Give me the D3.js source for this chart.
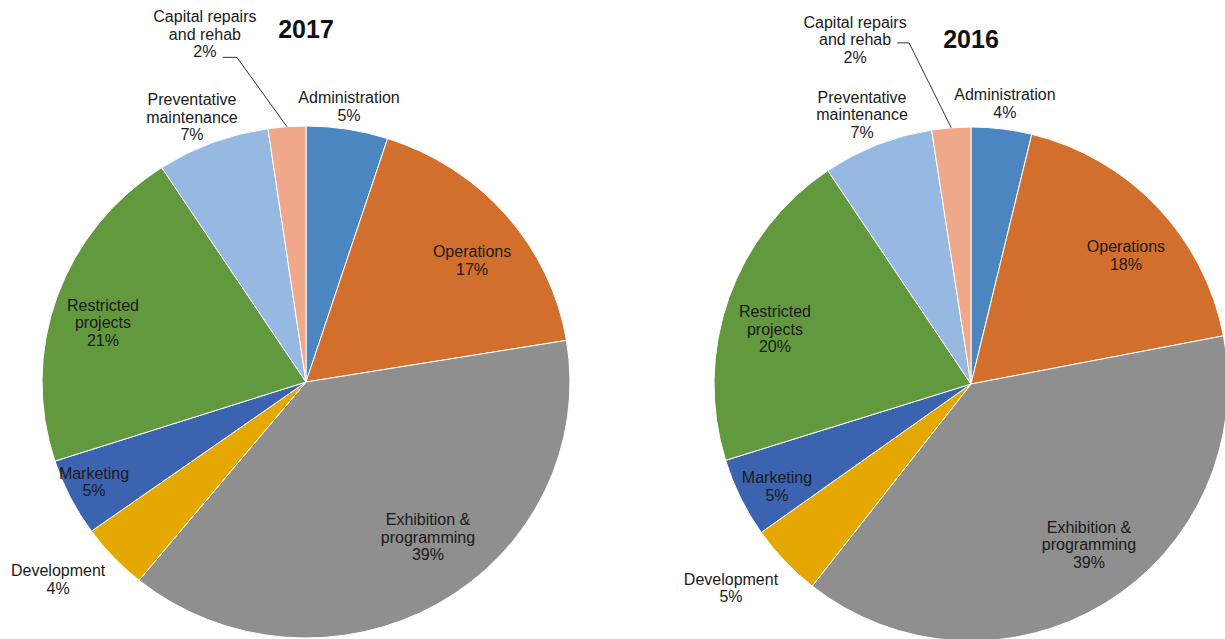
<!DOCTYPE html>
<html>
<head>
<meta charset="utf-8">
<script src="https://cdn.jsdelivr.net/npm/d3@7"></script>
<style>
  body { margin: 0; background: #fff; }
  svg { display: block; }
  .lbl { font-family: "Liberation Sans", Arial, sans-serif; font-size: 16px; fill: #1a1a1a; }
  .ttl { font-family: "Liberation Sans", Arial, sans-serif; font-size: 25px; font-weight: bold; fill: #111; }
  .leader { fill: none; stroke: #333; stroke-width: 1; }
</style>
</head>
<body>
<script>
// categories, clockwise from 12 o'clock
var categories = ['Administration', 'Operations', 'Exhibition & programming', 'Development',
                  'Marketing', 'Restricted projects', 'Preventative maintenance', 'Capital repairs and rehab'];
var labelLines = [['Administration'], ['Operations'], ['Exhibition &', 'programming'], ['Development'],
                  ['Marketing'], ['Restricted', 'projects'], ['Preventative', 'maintenance'], ['Capital repairs', 'and rehab']];
var values2017 = [5.0, 17.4, 38.5, 4.2, 4.9, 20.8, 6.9, 2.3];
var values2016 = [3.8, 18.2, 38.6, 4.6, 5.0, 20.4, 6.95, 2.45];
var colors = ['#4b86c1', '#d36f2c', '#8f8f8f', '#e5a800', '#3c63af', '#62993e', '#97b8e0', '#efa88a'];

// label placement (in units of the pie radius, relative to its centre)
var labelPos2017 = [[0.163, -1.077], [0.629, -0.475], [0.462, 0.607], [-0.939, 0.771],
                    [-0.803, 0.391], [-0.769, -0.232], [-0.432, -1.034], [-0.383, -1.358]];
var labelPos2016 = [[0.132, -1.092], [0.603, -0.500], [0.459, 0.626], [-0.934, 0.794],
                    [-0.755, 0.399], [-0.763, -0.214], [-0.424, -1.049], [-0.451, -1.339]];

var W = 1225, H = 639;
var svg = d3.select('body').append('svg').attr('width', W).attr('height', H);

var pie = d3.pie().sort(null).value(function(d) { return d; });
var lineH = 17.5;

drawPie = function(opts) {
    var rx = opts.rx, ry = opts.ry, sx = rx / ry;
    var arcs = pie(opts.values);
    var total = d3.sum(opts.values);
    var arc = d3.arc().innerRadius(0).outerRadius(ry);
    var edge = d3.arc().innerRadius(ry).outerRadius(ry);

    var g = svg.append('g').attr('transform', 'translate(' + opts.cx + ',' + opts.cy + ')');
    g.append('g').attr('transform', 'scale(' + sx + ',1)')
      .selectAll('path').data(arcs).enter().append('path')
      .attr('d', arc)
      .attr('fill', function(d, i) { return colors[i]; })
      .attr('stroke', '#fff')
      .attr('stroke-width', 1)
      .attr('vector-effect', 'non-scaling-stroke');

    g.append('text').attr('class', 'ttl')
      .attr('x', 0).attr('y', -opts.titleOff * ry)
      .attr('text-anchor', 'middle').attr('dy', '0.35em')
      .text(opts.title);

    arcs.forEach(function(d, i) {
        var lx = opts.labelPos[i][0] * rx, ly = opts.labelPos[i][1] * ry;
        var lines = labelLines[i].concat([Math.round(d.value / total * 100) + '%']);
        var t = g.append('text').attr('class', 'lbl').attr('text-anchor', 'middle');
        lines.forEach(function(s, k) {
            t.append('tspan').attr('x', lx)
              .attr('y', ly + (k - (lines.length - 1) / 2) * lineH)
              .attr('dy', '0.35em').text(s);
        });
    });

    // leader line for the small capital slice
    var c = edge.centroid(arcs[7]);
    var lp = opts.labelPos[7];
    var sx0 = lp[0] * rx + opts.leader[0], sy0 = lp[1] * ry + opts.leader[1];
    g.append('path').attr('class', 'leader')
      .attr('d', d3.line()([[sx0, sy0], [sx0 + opts.leader[2], sy0], [c[0] * sx, c[1]]]));
};

drawPie({cx: 306, cy: 382, rx: 264, ry: 256, values: values2017, labelPos: labelPos2017,
         title: '2017', titleOff: 1.379, leader: [18, 23, 14]});
drawPie({cx: 971, cy: 384, rx: 257, ry: 257, values: values2016, labelPos: labelPos2016,
         title: '2016', titleOff: 1.342, leader: [42, 3, 12]});
</script>
</body>
</html>
